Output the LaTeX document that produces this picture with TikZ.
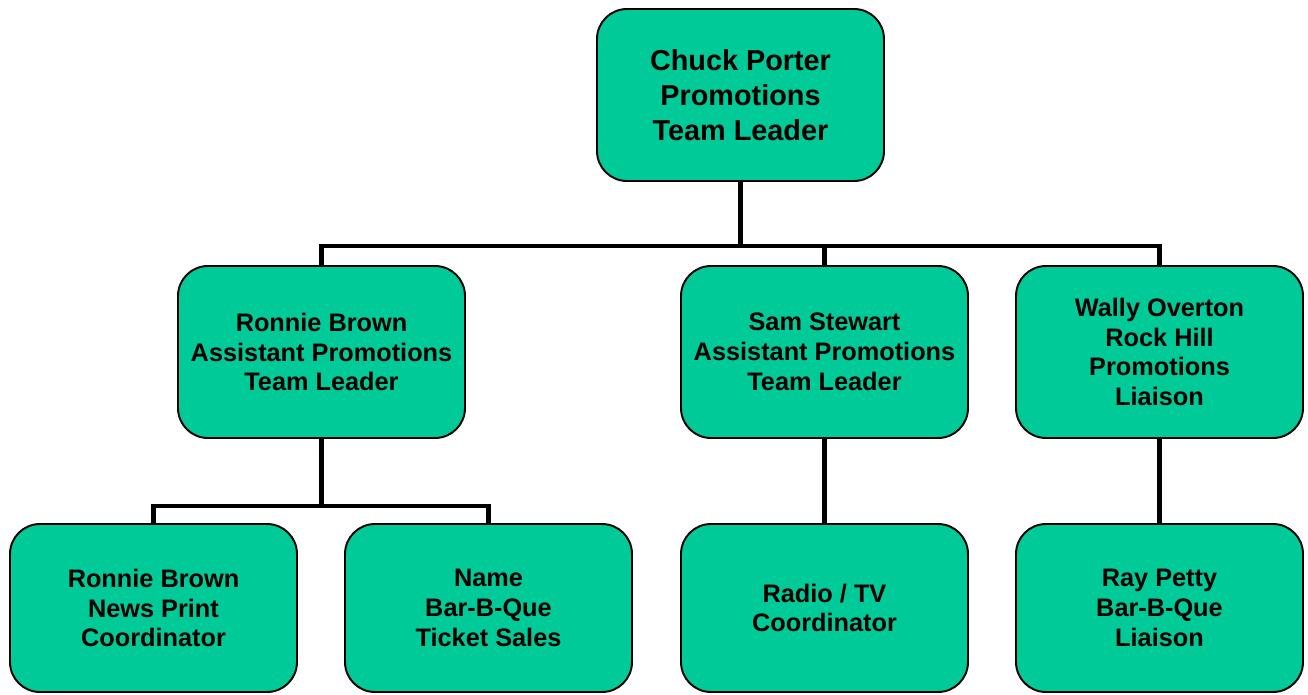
\documentclass[tikz,border=0pt]{standalone}
\usepackage{fontspec}
\setmainfont{Liberation Sans}
\usepackage{tikz}

\definecolor{boxgreen}{RGB}{0,202,152}

\tikzset{
  post/.style={draw, line width=1.1pt, fill=boxgreen, rounded corners=0.6cm,
    minimum width=5.74cm, align=center, font=\bfseries\fontsize{14.4}{17}\selectfont},
  head/.style={post, minimum height=3.44cm, font=\bfseries\fontsize{16.4}{20}\selectfont},
  conn/.style={line width=2.8pt}
}

\begin{document}
\begin{tikzpicture}
      \useasboundingbox (0, 0) rectangle (26.16, -13.88);

      \node [head] (porter) at (14.81, -1.90) {Chuck Porter\\Promotions\\Team Leader};

      \node [post, minimum height=3.44cm] (ronnie) at (6.43, -7.04) {Ronnie Brown\\Assistant Promotions\\Team Leader};
      \node [post, minimum height=3.44cm] (sam) at (16.49, -7.04) {Sam Stewart\\Assistant Promotions\\Team Leader};
      \node [post, minimum height=3.44cm] (wally) at (23.19, -7.04) {Wally Overton\\Rock Hill\\Promotions\\Liaison};

      \node [post, minimum height=3.36cm] (news) at (3.07, -12.16) {Ronnie Brown\\News Print\\Coordinator};
      \node [post, minimum height=3.36cm] (bbq) at (9.77, -12.16) {Name\\Bar-B-Que\\Ticket Sales};
      \node [post, minimum height=3.36cm] (radio) at (16.49, -12.16) {Radio / TV\\Coordinator};
      \node [post, minimum height=3.36cm] (ray) at (23.19, -12.16) {Ray Petty\\Bar-B-Que\\Liaison};

      \draw [conn] (porter.south) -- ++(0, -1.28) coordinate (bus);
      \draw [conn] (ronnie.north) |- (bus) -| (wally.north);
      \draw [conn] (sam.north) -- (sam.north |- bus);

      \draw [conn] (ronnie.south) -- ++(0, -1.34) coordinate (subbus);
      \draw [conn] (news.north) |- (subbus) -| (bbq.north);
      \draw [conn] (sam.south) -- (radio.north);
      \draw [conn] (wally.south) -- (ray.north);
\end{tikzpicture}
\end{document}
